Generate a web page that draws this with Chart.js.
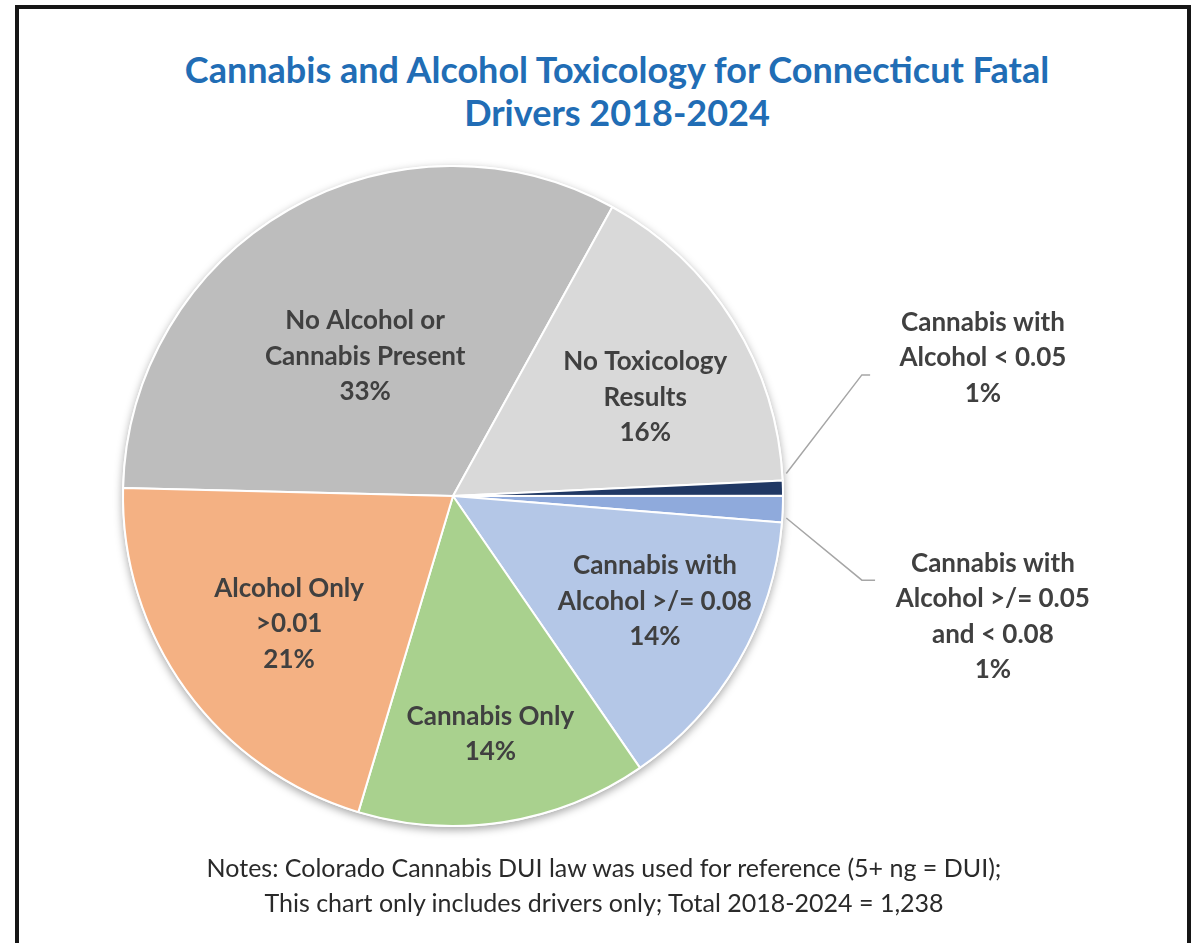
<!DOCTYPE html>
<html>
<head>
<meta charset="utf-8">
<title>Cannabis and Alcohol Toxicology</title>
<script src="https://cdn.jsdelivr.net/npm/chart.js@4.4.0/dist/chart.umd.min.js"></script>
<style>
  body { margin: 0; background: #fff; overflow: hidden; }
  .frame {
    position: absolute; left: 15px; top: 5px;
    width: 1168px; height: 980px;
    border: 4px solid #161616; background: #fff;
  }
  .title {
    position: absolute; left: 117px; width: 1000px; top: 48px;
    text-align: center; color: #216db5;
    font: bold 36px Lato, sans-serif; line-height: 43px;
  }
  .notes {
    position: absolute; left: 104px; width: 1000px; top: 850px;
    text-align: center; color: #2a2a2a;
    font: 25px Lato, sans-serif; line-height: 35px;
  }
  canvas { position: absolute; left: 0; top: 0; }
</style>
</head>
<body>
<div class="frame"></div>
<div class="title">Cannabis and Alcohol Toxicology for Connecticut Fatal<br>Drivers 2018-2024</div>
<canvas id="pieChart" width="1195" height="943"></canvas>
<div class="notes">Notes: Colorado Cannabis DUI law was used for reference (5+ ng = DUI);<br>This chart only includes drivers only; Total 2018-2024 = 1,238</div>

<script>
// Driver counts 2018-2024, clockwise from the left edge
const categories = [
  ["No Alcohol or", "Cannabis Present"],
  ["No Toxicology", "Results"],
  ["Cannabis with", "Alcohol < 0.05"],
  ["Cannabis with", "Alcohol >/= 0.05", "and < 0.08"],
  ["Cannabis with", "Alcohol >/= 0.08"],
  ["Cannabis Only"],
  ["Alcohol Only", ">0.01"],
];
const counts = [404, 201, 9, 16, 175, 176, 257];
const sliceColors = ["#bdbdbd", "#d9d9d9", "#203864", "#8faadc", "#b4c7e7", "#a9d18e", "#f4b183"];

const total = counts.reduce((a, b) => a + b, 0);

// soft shadow under the whole pie
const pieShadow = {
  id: "pieShadow",
  beforeDatasetsDraw(chart) {
    const arc = chart.getDatasetMeta(0).data[0];
    if (!arc) return;
    const ctx = chart.ctx;
    ctx.save();
    ctx.shadowColor = "rgba(0,0,0,0.35)";
    ctx.shadowBlur = 8;
    ctx.shadowOffsetY = 3;
    ctx.fillStyle = "#fff";
    ctx.beginPath();
    ctx.arc(arc.x, arc.y, arc.outerRadius + 1, 0, Math.PI * 2);
    ctx.fill();
    ctx.restore();
  },
};

// category + percent labels, inside the slice or outside with a leader line
const sliceLabels = {
  id: "sliceLabels",
  afterDatasetsDraw(chart, args, opts) {
    const ctx = chart.ctx;
    const meta = chart.getDatasetMeta(0);
    ctx.save();
    ctx.font = opts.font;
    ctx.fillStyle = opts.color;
    ctx.textAlign = "center";
    ctx.textBaseline = "middle";
    meta.data.forEach((arc, i) => {
      const lines = categories[i].concat(Math.round(counts[i] / total * 100) + "%");
      const mid = (arc.startAngle + arc.endAngle) / 2;
      const R = arc.outerRadius;
      const out = opts.outside[i];
      let cx, cy;
      if (out) {
        const a = mid + out.startTurn * Math.PI / 180;
        const sx = arc.x + Math.cos(a) * (R + 4);
        const sy = arc.y + Math.sin(a) * (R + 4);
        const ex = arc.x + out.elbowX * R;
        const ey = arc.y + out.elbowY * R;
        ctx.strokeStyle = "#a6a6a6";
        ctx.lineWidth = 1.5;
        ctx.beginPath();
        ctx.moveTo(sx, sy);
        ctx.lineTo(ex, ey);
        ctx.lineTo(arc.x + out.tailX * R, ey);
        ctx.stroke();
        cx = arc.x + out.dx * R;
        cy = arc.y + out.dy * R;
      } else {
        const a = mid + opts.turn[i] * Math.PI / 180;
        cx = arc.x + Math.cos(a) * R * opts.radius[i];
        cy = arc.y + Math.sin(a) * R * opts.radius[i];
      }
      const lh = opts.lineHeight;
      lines.forEach((t, k) => {
        ctx.fillText(t, cx, cy + (k - (lines.length - 1) / 2) * lh);
      });
    });
    ctx.restore();
  },
};

new Chart(document.getElementById("pieChart"), {
  type: "pie",
  data: {
    labels: categories,
    datasets: [{
      data: counts,
      backgroundColor: sliceColors,
      borderColor: "#ffffff",
      borderWidth: 2,
    }],
  },
  options: {
    responsive: false,
    animation: false,
    rotation: -88.6,
    layout: { padding: { left: 122, right: 411, top: 165, bottom: 116 } },
    plugins: {
      legend: { display: false },
      tooltip: { enabled: false },
      sliceLabels: {
        font: "bold 26px Lato, sans-serif",
        color: "#404040",
        lineHeight: 35.5,
        radius: [0.5, 0.655, null, null, 0.69, 0.73, 0.63],
        turn: [-2.3, 4.7, 0, 0, -2.5, 0, -2],
        outside: [
          null, null,
          { dx: 1.606, dy: -0.418, elbowX: 1.239, elbowY: -0.367, tailX: 1.264, startTurn: -2.5 },
          { dx: 1.636, dy: 0.365, elbowX: 1.239, elbowY: 0.255, tailX: 1.279, startTurn: 1.5 },
          null, null, null,
        ],
      },
    },
  },
  plugins: [pieShadow, sliceLabels],
});
</script>
</body>
</html>
